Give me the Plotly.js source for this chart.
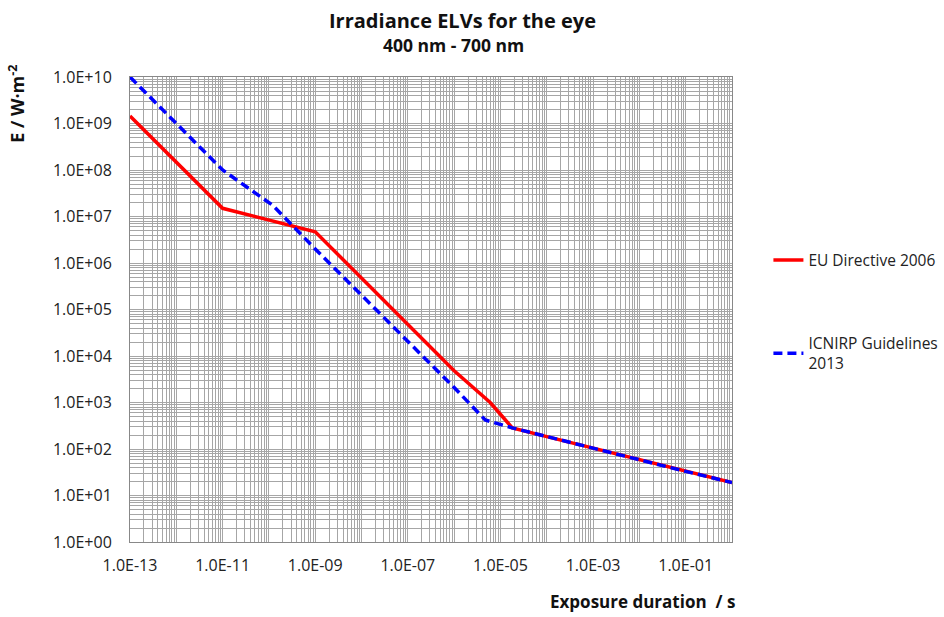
<!DOCTYPE html>
<html>
<head>
<meta charset="utf-8">
<script src="https://cdn.plot.ly/plotly-3.0.1.min.js"></script>
<style>html,body{margin:0;padding:0;background:#fff}#chart{width:944px;height:617px}</style>
</head>
<body>
<div id="chart"></div>
<script>
// Data
const euTime = [1e-13, 1e-11, 1e-9, 1e-6, 6e-6, 1.8e-5, 1e-4, 1e-3, 1e-2, 1e-1, 1];
const euE    = [1.45e9, 1.5e7, 4.7e6, 4.8e3, 1.0e3, 285, 185, 105, 60, 33, 19];
const icTime = [1e-13, 1e-11, 1.2e-10, 1e-9, 1e-6, 4.7e-6, 1.8e-5, 1e-4, 1e-3, 1e-2, 1e-1, 1];
const icE    = [1e10, 1e8, 1.75e7, 2.0e6, 2.1e3, 420, 285, 185, 105, 60, 33, 19];
const seriesNames = ["EU Directive 2006", "ICNIRP Guidelines<br>2013"];
const xTickVals = [1e-13, 1e-11, 1e-9, 1e-7, 1e-5, 1e-3, 1e-1];
const xTickText = ["1.0E-13", "1.0E-11", "1.0E-09", "1.0E-07", "1.0E-05", "1.0E-03", "1.0E-01"];
const yTickVals = [1, 10, 100, 1e3, 1e4, 1e5, 1e6, 1e7, 1e8, 1e9, 1e10];
const yTickText = ["1.0E+00","1.0E+01","1.0E+02","1.0E+03","1.0E+04","1.0E+05","1.0E+06","1.0E+07","1.0E+08","1.0E+09","1.0E+10"];
const titleText = "Irradiance ELVs for the eye";
const subtitleText = "400 nm - 700 nm";
const xTitle = "Exposure duration  / s";
const yTitle = "E / W·m<sup>-2</sup>";

const font = "Open Sans, Noto Sans, sans-serif";
const grid = "#a6a6a6";

const traces = [
  {x: euTime, y: euE, name: seriesNames[0], mode: "lines", type: "scatter",
   line: {color: "#ff0000", width: 3.5}, legend: "legend"},
  {x: icTime, y: icE, name: seriesNames[1], mode: "lines", type: "scatter",
   line: {color: "#0000ff", width: 3.5, dash: "9px,5px"}, legend: "legend2"}
];

const axisCommon = {
  type: "log", showline: true, linecolor: "#888", linewidth: 1, mirror: true,
  showgrid: true, gridcolor: grid, gridwidth: 1, zeroline: false,
  ticks: "", tickfont: {family: font, size: 16, color: "#222"},
  minor: {dtick: "D1", showgrid: true, gridcolor: grid, gridwidth: 1, ticks: ""}
};

const legendFont = {family: font, size: 15.5, color: "#222"};

const layout = {
  width: 944, height: 617,
  margin: {l: 130, r: 212, t: 77, b: 75, autoexpand: false},
  paper_bgcolor: "#fff", plot_bgcolor: "#fff",
  showlegend: true,
  xaxis: Object.assign({}, axisCommon, {
    range: [-13, 0], tickmode: "array", tickvals: xTickVals, ticktext: xTickText, ticklabelstandoff: 9
  }),
  yaxis: Object.assign({}, axisCommon, {
    range: [0, 10], tickmode: "array", tickvals: yTickVals, ticktext: yTickText, ticklabelstandoff: 14
  }),
  legend: {xref: "container", yref: "container", x: 0.814, xanchor: "left", y: 0.578, yanchor: "middle",
    bgcolor: "rgba(0,0,0,0)", font: legendFont, itemwidth: 30},
  legend2: {xref: "container", yref: "container", x: 0.814, xanchor: "left", y: 0.427, yanchor: "middle",
    bgcolor: "rgba(0,0,0,0)", font: legendFont, itemwidth: 30},
  annotations: [
    {text: "<b>" + titleText + "</b>", xref: "paper", yref: "paper", x: 0.552, y: 1.122,
     xanchor: "center", yanchor: "middle", showarrow: false, font: {family: font, size: 20, color: "#111"}},
    {text: "<b>" + subtitleText + "</b>", xref: "paper", yref: "paper", x: 0.537, y: 1.069,
     xanchor: "center", yanchor: "middle", showarrow: false, font: {family: font, size: 17.5, color: "#111"}},
    {text: "<b>" + xTitle + "</b>", xref: "paper", yref: "paper", x: 1.009, y: -0.127,
     xanchor: "right", yanchor: "middle", showarrow: false, font: {family: font, size: 17, color: "#111"}},
    {text: "<b>" + yTitle + "</b>", xref: "paper", yref: "paper", x: -0.188, y: 1.03,
     xanchor: "center", yanchor: "top", textangle: -90, showarrow: false, font: {family: font, size: 18, color: "#111"}}
  ]
};

Plotly.newPlot("chart", traces, layout, {displayModeBar: false, staticPlot: true});
</script>
</body>
</html>
